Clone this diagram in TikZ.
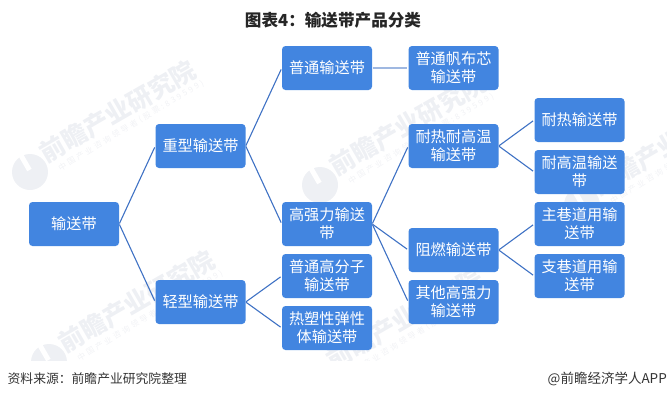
\documentclass[tikz,border=0pt]{standalone}
\usepackage{fontspec}
\setmainfont{Noto Sans CJK SC}
\newfontfamily\spacedcjk[LetterSpace=30]{Noto Sans CJK SC}
\usetikzlibrary{positioning,calc}
\definecolor{boxblue}{HTML}{4285E0}
\definecolor{linkblue}{HTML}{3F72C4}
\definecolor{marksoft}{HTML}{EEF0F4}
\definecolor{markfine}{HTML}{F1F2F5}
\tikzset{
  belt/.style={draw=none,fill=boxblue,rounded corners=3.5pt,minimum width=90pt,minimum height=44pt,
    text=white,align=center,inner sep=0pt,font=\fontsize{15.2}{18}\selectfont},
  link/.style={linkblue,line width=1.1pt,shorten <=.5pt,shorten >=1.5pt},
  stamp/.style={text=marksoft,rotate=30,inner sep=0pt,font=\fontsize{25}{25}\selectfont\bfseries,anchor=west},
  stampfine/.style={text=markfine,rotate=31,inner sep=0pt,font=\fontsize{8}{8}\spacedcjk,anchor=west}
}
\begin{document}
\begin{tikzpicture}[x=1pt,y=-1pt]
\useasboundingbox (0,0) rectangle (667,400);
% watermarks
\begin{scope}
\clip (0,28) rectangle (667,360);
\foreach \x/\y in {30/172,320/185,582/205,49/362,317/379}{
  \fill[marksoft] (\x,\y) circle (18);
  \fill[white,rotate around={30:(\x,\y)}] (\x-2,\y-20) rectangle (\x+3,\y-2);
  \node[stamp] at (\x+12,\y-17) {前瞻产业研究院};
  \node[stampfine] at (\x+29,\y-3) {中国产业咨询领导者(股票:839599)};
}
\end{scope}
% title and source
\node[font=\fontsize{16.6}{18}\selectfont\bfseries,text=black!85] (title) at (333,20) {图表4：输送带产品分类};
\node[font=\fontsize{12.8}{16}\selectfont,text=black!80,anchor=west,inner sep=0pt] (source) at (7.5,379) {资料来源：前瞻产业研究院整理};
\node[font=\fontsize{13.5}{16}\selectfont,text=black!80,anchor=east,inner sep=0pt] (brand) at (667,379) {@前瞻经济学人APP};
% boxes
\node[belt] (root) at (74,224) {输送带};
\node[belt] (heavy) at (200.5,146) {重型输送带};
\node[belt] (light) at (200.5,302) {轻型输送带};
\node[belt] (plain) at (327,68) {普通输送带};
\node[belt] (strong) at (327,224) {高强力输送\\带};
\node[belt] (polymer) at (327,276) {普通高分子\\输送带};
\node[belt] (elastic) at (327,328) {热塑性弹性\\体输送带};
\node[belt] (canvas) at (453.5,68) {普通帆布芯\\输送带};
\node[belt] (hot) at (453.5,146) {耐热耐高温\\输送带};
\node[belt] (flame) at (453.5,250) {阻燃输送带};
\node[belt] (other) at (453.5,302) {其他高强力\\输送带};
\node[belt] (heat) at (579.5,120) {耐热输送带};
\node[belt] (temp) at (579.5,172) {耐高温输送\\带};
\node[belt] (main) at (579.5,224) {主巷道用输\\送带};
\node[belt] (branch) at (579.5,276) {支巷道用输\\送带};
% connectors
\foreach \a/\b in {root/heavy,root/light,heavy/plain,heavy/strong,light/polymer,light/elastic,
  strong/hot,strong/flame,strong/other,hot/heat,hot/temp,flame/main,flame/branch}{
  \draw[link] (\a.east)--(\b.west);
}
\draw[link,color=linkblue!50,line width=1.5pt] (plain)--(canvas);
\end{tikzpicture}
\end{document}
